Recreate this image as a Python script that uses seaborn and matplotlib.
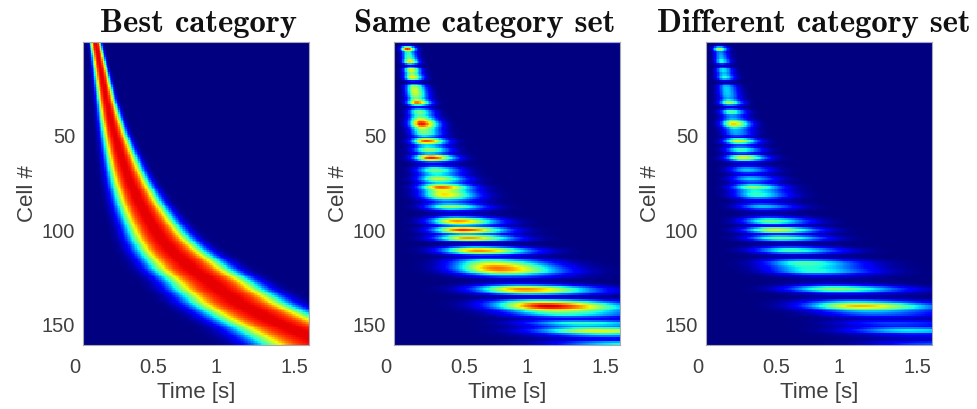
"""
Three single-cell heatmaps: response over time, one row per cell.
Per-row peak time, half width and amplitude are read off the reference.
"""

import numpy as np
import pandas as pd
import matplotlib
matplotlib.use("Agg")
import matplotlib.pyplot as plt
import matplotlib.transforms as mtrans
import seaborn as sns

titles = ["Best category", "Same category set", "Different category set"]
x_tick_values = [0, 0.5, 1, 1.5]
x_tick_labels = ["0", "0.5", "1", "1.5"]
y_tick_values = [50, 100, 150]

# peak time [s] of each cell
peak_time = [
    .09, .092, .095, .097, .10, .102, .105, .107, .11, .112,
    .115, .117, .12, .122, .125, .127, .13, .132, .135, .137,
    .14, .142, .145, .147, .15, .152, .155, .157, .16, .162,
    .165, .168, .171, .174, .177, .18, .183, .186, .189, .192,
    .195, .198, .201, .205, .208, .212, .215, .219, .222, .226,
    .23, .234, .238, .242, .246, .25, .254, .258, .262, .266,
    .27, .274, .279, .283, .288, .292, .297, .301, .306, .31,
    .315, .32, .326, .331, .337, .342, .348, .354, .36, .366,
    .372, .378, .384, .39, .397, .404, .411, .418, .425, .432,
    .44, .448, .456, .464, .472, .48, .488, .496, .504, .512,
    .52, .53, .54, .55, .56, .57, .58, .595, .605, .615,
    .63, .645, .66, .675, .69, .705, .72, .735, .75, .76,
    .78, .80, .82, .84, .86, .875, .895, .915, .93, .945,
    .96, .98, 1.0, 1.02, 1.04, 1.06, 1.075, 1.09, 1.115, 1.14,
    1.165, 1.19, 1.215, 1.24, 1.265, 1.29, 1.32, 1.35, 1.38, 1.41,
    1.44, 1.47, 1.5, 1.53, 1.56, 1.6, 1.63, 1.66, 1.69, 1.72,
]

# half width [s] of the response of each cell
half_width = [
    .042, .042, .043, .043, .044, .044, .045, .045, .046, .047,
    .048, .049, .05, .051, .052, .053, .054, .055, .056, .057,
    .058, .059, .06, .061, .062, .063, .064, .065, .066, .067,
    .068, .069, .071, .072, .074, .075, .077, .078, .08, .081,
    .083, .084, .086, .087, .089, .09, .092, .093, .095, .097,
    .099, .101, .103, .105, .107, .109, .111, .113, .115, .117,
    .119, .121, .123, .125, .127, .129, .131, .133, .135, .137,
    .14, .142, .145, .147, .15, .152, .155, .157, .16, .162,
    .165, .167, .17, .172, .175, .178, .181, .183, .186, .189,
    .192, .195, .198, .2, .203, .206, .209, .212, .215, .218,
    .222, .226, .23, .234, .238, .242, .246, .25, .255, .26,
    .265, .27, .275, .28, .285, .29, .295, .298, .302, .306,
    .31, .314, .318, .322, .326, .33, .334, .338, .342, .346,
    .35, .354, .358, .362, .366, .37, .374, .378, .382, .386,
    .39, .394, .398, .402, .406, .41, .414, .418, .422, .426,
    .43, .44, .45, .46, .47, .48, .49, .5, .51, .52,
]

# peak amplitude of each cell in the two test panels
amp_same = [
    .02, .05, .5, .95, .7, .35, .42, .45, .45, .6,
    .75, .3, .03, .3, .65, .62, .5, .55, .7, .55,
    .1, .03, .3, .55, .58, .6, .6, .58, .55, .45,
    .55, .8, .85, .4, .08, .3, .5, .5, .42, .48,
    .6, .7, .85, .92, .8, .58, .52, .5, .5, .35,
    .15, .6, .9, .65, .3, .35, .55, .52, .3, .25,
    .75, .95, .6, .18, .08, .15, .4, .5, .48, .38,
    .35, .5, .62, .45, .3, .55, .85, .8, .6, .62,
    .68, .68, .5, .3, .2, .3, .5, .55, .35, .12,
    .05, .08, .25, .6, .78, .7, .35, .2, .7, .92,
    .7, .2, .55, .8, .6, .15, .04, .05, .3, .7,
    .8, .55, .15, .1, .15, .4, .55, .65, .75, .8,
    .78, .72, .4, .25, .2, .05, .04, .08, .25, .6,
    .8, .72, .6, .3, .05, .05, .35, .6, .85, .95,
    .9, .68, .55, .45, .4, .2, .1, .25, .45, .35,
    .25, .4, .65, .65, .35, .25, .12, .1, .3, .45,
]

amp_diff = [
    .02, .03, .3, .62, .45, .22, .28, .3, .3, .38,
    .42, .15, .02, .18, .38, .36, .3, .33, .42, .32,
    .06, .02, .18, .32, .33, .33, .33, .33, .32, .27,
    .35, .55, .6, .25, .05, .2, .48, .45, .25, .26,
    .3, .42, .65, .72, .58, .35, .3, .3, .3, .18,
    .05, .42, .7, .42, .15, .22, .45, .42, .18, .1,
    .55, .72, .4, .1, .04, .1, .28, .33, .3, .15,
    .1, .28, .35, .22, .15, .35, .55, .5, .35, .38,
    .42, .42, .25, .1, .08, .18, .33, .33, .18, .06,
    .03, .05, .15, .38, .5, .42, .15, .08, .45, .72,
    .45, .08, .32, .55, .35, .08, .03, .04, .18, .4,
    .45, .25, .05, .05, .08, .25, .45, .45, .4, .38,
    .4, .42, .2, .1, .07, .03, .03, .05, .15, .4,
    .55, .42, .2, .1, .03, .03, .2, .35, .58, .75,
    .65, .42, .32, .25, .22, .1, .05, .12, .2, .17,
    .12, .25, .38, .35, .12, .1, .06, .05, .15, .25,
]

amp_best = [.91] * len(peak_time)
panel_amps = [amp_best, amp_same, amp_diff]

# panel edges, title centres in pixels of the 978x409 figure
FIG_W, FIG_H = 978, 409
panel_left = [83, 394, 706]
panel_width = 226
panel_top, panel_bottom = 42, 344.5
title_centre = [199, 484.5, 814]
peak_scale = [1.0, 0.95, 0.95]
left_scale = [0.9, 0.88, 0.88]
right_scale = [0.88, 1.28, 1.28]
flatness = [3.0, 2.0, 2.0]
row_blur = [0.0, 0.12, 0.12]
time_bins = np.arange(160) * 0.01 + 0.005
GRAY = "#404040"


def build_panel(amps, i):
    """One row per cell, a bump around its peak time."""
    rows = []
    for peak, width, amp in zip(peak_time, half_width, amps):
        d = time_bins - peak * peak_scale[i]
        s = np.where(d > 0, width * right_scale[i], width * left_scale[i])
        rows.append(amp * np.exp(-(np.abs(d) / s) ** flatness[i]))
    mat = np.array(rows)
    # the original is slightly blurred between rows
    b = row_blur[i]
    mat = (1 - 2 * b) * mat + b * np.roll(mat, 1, axis=0) + b * np.roll(mat, -1, axis=0)
    return pd.DataFrame(mat, index=np.arange(1, len(rows) + 1), columns=time_bins)


sns.set_theme(style="white")
plt.rcParams["font.family"] = ["Liberation Sans", "DejaVu Sans"]

fig = plt.figure(figsize=(FIG_W / 100, FIG_H / 100), dpi=100)

for i, title in enumerate(titles):
    ax = fig.add_axes([
        panel_left[i] / FIG_W,
        1 - panel_bottom / FIG_H,
        panel_width / FIG_W,
        (panel_bottom - panel_top) / FIG_H,
    ])
    sns.heatmap(build_panel(panel_amps[i], i), cmap="jet", vmin=0, vmax=1,
                cbar=False, ax=ax, xticklabels=False, yticklabels=False, rasterized=True)

    ax.set_xticks([t / 0.01 for t in x_tick_values])
    ax.set_xticklabels(x_tick_labels, rotation=0, fontsize=14.5, color=GRAY)
    ax.set_yticks([v - 0.5 for v in y_tick_values])
    ax.set_yticklabels(y_tick_values, rotation=0, fontsize=14.5, color=GRAY)
    ax.tick_params(axis="both", direction="in", length=2, width=0.5, color="#333333",
                   top=True, right=True, bottom=True, left=True, pad=10)
    ax.tick_params(axis="y", pad=5.5)

    # the "0" and "1" labels sit a little left of their ticks in the original
    for lab, dx in zip(ax.get_xticklabels(), [-6, 0, -6, 0]):
        lab.set_transform(lab.get_transform() + mtrans.ScaledTranslation(dx / 72, 0, fig.dpi_scale_trans))

    for spine in ax.spines.values():
        spine.set_visible(True)
        spine.set_color("#a8a8b4")
        spine.set_linewidth(0.8)

    ax.set_xlabel("Time [s]", fontsize=16, color=GRAY, labelpad=3)
    ax.set_ylabel("Cell #", fontsize=16, color=GRAY, labelpad=3)

    fig.text(title_centre[i] / FIG_W, 1 - 32 / FIG_H, title, family="cmb10",
             fontsize=23.5, color="#111111", ha="center", va="baseline")

fig.savefig("out.png", dpi=100)
